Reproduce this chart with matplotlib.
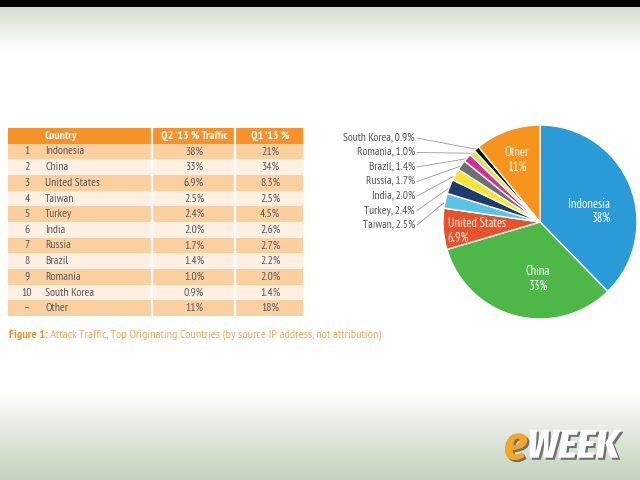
import numpy as np
import matplotlib
matplotlib.use("Agg")
import matplotlib.pyplot as plt
import matplotlib.patheffects as pe

# ---------------- data ----------------
ranks = ["1", "2", "3", "4", "5", "6", "7", "8", "9", "10", "\u2013"]
countries = ["Indonesia", "China", "United States", "Taiwan", "Turkey", "India",
             "Russia", "Brazil", "Romania", "South Korea", "Other"]
q2_traffic = [38, 33, 6.9, 2.5, 2.4, 2.0, 1.7, 1.4, 1.0, 0.9, 11]
q1_traffic = [21, 34, 8.3, 2.5, 4.5, 2.6, 2.7, 2.2, 2.0, 1.4, 18]
q2_labels = ["38%", "33%", "6.9%", "2.5%", "2.4%", "2.0%", "1.7%", "1.4%", "1.0%", "0.9%", "11%"]
q1_labels = ["21%", "34%", "8.3%", "2.5%", "4.5%", "2.6%", "2.7%", "2.2%", "2.0%", "1.4%", "18%"]
headers = ["", "Country", "Q2 '13 % Traffic", "Q1 '13 %"]
caption_bold = "Figure 1:"
caption_rest = " Attack Traffic, Top Originating Countries (by source IP address, not attribution)"

slice_colors = ["#2b9bd8", "#4db848", "#e8522a", "#5bc4e6", "#1d3b6c", "#f8e33a",
                "#6d7071", "#d62f9c", "#d9e24c", "#111111", "#f7941e"]

NARROW = ["PT Sans Narrow", "Fira Sans Condensed", "DejaVu Sans"]
LOGO = ["Fira Sans Condensed", "DejaVu Sans"]

fig = plt.figure(figsize=(6.4, 4.8), dpi=100)

# ---------------- background ----------------
bg = fig.add_axes([0, 0, 1, 1])
bg.set_xlim(0, 640)
bg.set_ylim(480, 0)
bg.axis("off")
H = 480
img = np.ones((H, 1, 3))
top_c = np.array([0xd6, 0xdf, 0xd0]) / 255
bot_c = np.array([0xc3, 0xd2, 0xbb]) / 255
for y in range(H):
    if y < 7:
        img[y, 0] = [0.02, 0.02, 0.02]
    elif y < 50:
        t = (y - 7) / 43.0
        img[y, 0] = top_c * (1 - t) + np.ones(3) * t
    elif y > 390:
        t = (y - 390) / 90.0
        img[y, 0] = np.ones(3) * (1 - t) + bot_c * t
bg.imshow(img, extent=[0, 640, 480, 0], aspect="auto", zorder=0)

# ---------------- table ----------------
tx0, tx1, ty0, ty1 = 8, 303, 128, 316
tab = fig.add_axes([tx0 / 640, 1 - ty1 / 480, (tx1 - tx0) / 640, (ty1 - ty0) / 480])
tab.set_xlim(0, tx1 - tx0)
nrows = len(countries) + 1
tab.set_ylim(nrows, 0)
tab.axis("off")
row_cols = ["#f7922b"] + ["#fbd0a1" if i % 2 == 0 else "#fef0e2" for i in range(len(countries))]
tab.barh(np.arange(nrows) + 0.5, [tx1 - tx0] * nrows, height=1.0, left=0,
         color=row_cols, linewidth=0)
for xs in (144, 227):
    tab.axvline(xs, color="white", lw=1.6)

col_num, col_name, col_q2, col_q1 = 19, 37, 186, 262
hdr_kw = dict(color="white", fontsize=8.5, fontweight="bold", family=NARROW, va="center")
tab.text(col_name, 0.5, headers[1], ha="left", **hdr_kw)
tab.text(col_q2, 0.5, headers[2], ha="center", **hdr_kw)
tab.text(col_q1, 0.5, headers[3], ha="center", **hdr_kw)
cell_kw = dict(color="#5a5a5a", fontsize=8.5, family=NARROW, va="center")
for i in range(len(countries)):
    y = i + 1.5
    tab.text(col_num, y, ranks[i], ha="center", **cell_kw)
    tab.text(col_name, y, countries[i], ha="left", **cell_kw)
    tab.text(col_q2, y, q2_labels[i], ha="center", **cell_kw)
    tab.text(col_q1, y, q1_labels[i], ha="center", **cell_kw)

# caption
cap = bg.text(9, 335, caption_bold, color="#f0922a", fontsize=8.8, fontweight="bold",
              family=NARROW, va="center", ha="left")
bg.annotate(caption_rest, xy=(1, 0.5), xycoords=cap, xytext=(0, 0), textcoords="offset points",
            color="#f3a95e", fontsize=8.8, family=NARROW, va="center", ha="left")

# ---------------- pie ----------------
cx, cy, R = 540, 222, 97
pax = fig.add_axes([(cx - R) / 640, 1 - (cy + R) / 480, 2 * R / 640, 2 * R / 480])
wedges, _ = pax.pie(q2_traffic, colors=slice_colors, startangle=90, counterclock=False,
                    wedgeprops=dict(edgecolor="white", linewidth=1.0))
pax.set_xlim(-1, 1)
pax.set_ylim(-1, 1)

in_kw = dict(color="white", fontsize=9, family=NARROW, va="center")
pax.text(0.72, 0.11, f"{countries[0]}\n{q2_labels[0]}", ha="right", ma="right", linespacing=1.15, **in_kw)
pax.text(-0.02, -0.59, f"{countries[1]}\n{q2_labels[1]}", ha="center", ma="center", linespacing=1.15, **in_kw)
pax.text(-0.95, -0.09, f"{countries[2]}\n{q2_labels[2]}", ha="left", ma="left", linespacing=1.15, **in_kw)
pax.text(-0.24, 0.64, f"{countries[10]}\n{q2_labels[10]}", ha="center", ma="center", linespacing=1.15, **in_kw)

# outside labels for small slices
small = list(range(3, 10))
lab_x = (415 - cx) / R
for k, i in enumerate(reversed(small)):
    ypix = 138 + k * 14.5
    ly = (cy - ypix) / R
    w = wedges[i]
    mid = np.deg2rad((w.theta1 + w.theta2) / 2)
    ex, ey = 0.99 * np.cos(mid), 0.99 * np.sin(mid)
    pax.text(lab_x, ly, f"{countries[i]}, {q2_labels[i]}", ha="right", va="center",
             color="#555555", fontsize=8.3, family=NARROW)
    pax.plot([lab_x + 0.02, ex], [ly, ey], color="#9a9a9a", lw=0.6, clip_on=False, zorder=0)

# ---------------- logo ----------------
shadow = [pe.withSimplePatchShadow(offset=(1.5, -1.5), shadow_rgbFace="#555555", alpha=0.8)]
e_txt = bg.text(504, 447, "e", color="#f5a52a", fontsize=34, fontweight="heavy", style="italic",
                family=LOGO, va="center", ha="left", path_effects=shadow)
bg.annotate("WEEK", xy=(1, 0.5), xycoords=e_txt, xytext=(0, 0), textcoords="offset points",
            color="white", fontsize=29, fontweight="heavy", style="italic", family=LOGO,
            va="center", ha="left", path_effects=shadow)

fig.savefig("out.png", dpi=100)
